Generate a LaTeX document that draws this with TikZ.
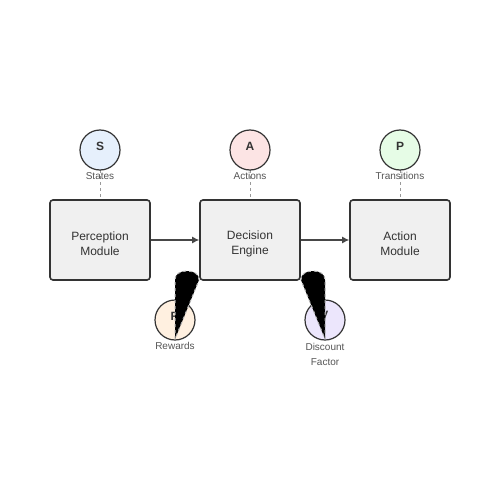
\documentclass[tikz,border=0pt]{standalone}
\usepackage{fontspec}
\setmainfont{Liberation Sans}
\usetikzlibrary{arrows.meta}
\definecolor{boxfill}{HTML}{F0F0F0}
\definecolor{edge}{HTML}{333333}
\definecolor{cS}{HTML}{E6F0FC}
\definecolor{cA}{HTML}{FCE4E4}
\definecolor{cP}{HTML}{E6FCE6}
\definecolor{cR}{HTML}{FFF0E0}
\definecolor{cG}{HTML}{ECE6FC}
\definecolor{lbl}{HTML}{555555}
\tikzset{
  modbox/.style={draw=edge, line width=1.6pt, fill=boxfill, rounded corners=3pt,
    minimum width=100pt, minimum height=80pt, inner sep=0pt},
  modtext/.style={align=center, inner sep=0pt,
    font=\fontsize{12}{15}\selectfont, text=edge},
  varc/.style={draw=edge, line width=1.2pt, circle, minimum size=40pt, inner sep=0pt},
  letter/.style={font=\fontsize{12}{14}\selectfont\bfseries, text=edge},
  small/.style={font=\fontsize{10}{15}\selectfont, text=lbl, align=center, inner sep=0pt},
  flow/.style={draw=edge!90, line width=1.2pt, -{Latex[length=7pt,width=7pt]}},
  link/.style={draw=gray!80, line width=1pt, dash pattern=on 3pt off 3pt},
  blob/.style={fill=black, draw=gray!60, line width=1pt, dash pattern=on 3pt off 3pt},
}
\begin{document}
\begin{tikzpicture}[x=1pt,y=-1pt]
\useasboundingbox (0,0) rectangle (500,500);
\fill[white] (0,0) rectangle (500,500);
% dashed links
\coordinate (sb) at (100,170); \coordinate (st) at (100,200);
\coordinate (ab) at (250,170); \coordinate (at2) at (250,200);
\coordinate (pb) at (400,170); \coordinate (pt) at (400,200);
\draw[link] (sb) -- (st);
\draw[link] (ab) -- (at2);
\draw[link] (pb) -- (pt);
% boxes
\node[modbox] (perc) at (100,240) {};
\node[modtext] (perct) at (100,244) {Perception\\Module};
\node[modbox] (dec) at (250,240) {};
\node[modtext] (dect) at (250,244) {Decision\\Engine};
\node[modbox] (act) at (400,240) {};
\node[modtext] (actt) at (400,244) {Action\\Module};
\draw[flow] (perc.east) -- (dec.west);
\draw[flow] (dec.east) -- (act.west);
% top circles
\node[varc, fill=cS] (S) at (100,150) {};
\node[letter] (Sl) at (100,146) {S};
\node[small] (Slab) at (100,176) {States};
\node[varc, fill=cA] (A) at (250,150) {};
\node[letter] (Al) at (250,146) {A};
\node[small] (Alab) at (250,176) {Actions};
\node[varc, fill=cP] (P) at (400,150) {};
\node[letter] (Pl) at (400,146) {P};
\node[small] (Plab) at (400,176) {Transitions};
% bottom circles
\node[varc, fill=cR] (R) at (175,320) {};
\node[letter] (Rl) at (175,316) {R};
\node[small] (Rlab) at (175,346) {Rewards};
\node[varc, fill=cG] (G) at (325,320) {};
\node[letter] (Gl) at (325,316) {γ};
\node[small] (Glab) at (325,354) {Discount\\Factor};
% black blobs
\path[blob] (175,339) -- (175,280) .. controls (174,268) and (200,268) .. (199,280) -- cycle;
\path[blob] (325,339) -- (325,280) .. controls (326,268) and (300,268) .. (301,280) -- cycle;
\end{tikzpicture}
\end{document}
